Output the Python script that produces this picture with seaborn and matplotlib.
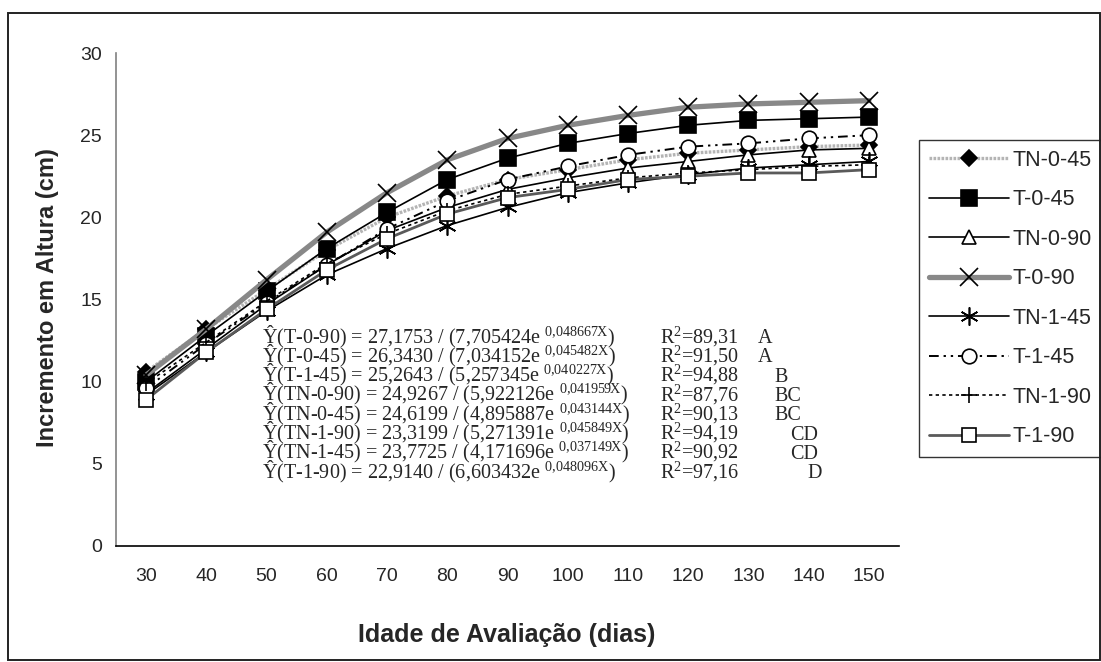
import numpy as np
import pandas as pd
import seaborn as sns
import matplotlib.pyplot as plt
from matplotlib.patches import Rectangle

# Idade de avaliacao (dias) e incremento em altura (cm)
dias = [30, 40, 50, 60, 70, 80, 90, 100, 110, 120, 130, 140, 150]

tn_0_45 = [10.6, 13.2, 15.6, 18.0, 20.0, 21.3, 22.3, 22.9, 23.5, 23.9, 24.1, 24.3, 24.4]
t_0_45 = [10.0, 12.8, 15.5, 18.1, 20.3, 22.3, 23.6, 24.5, 25.1, 25.6, 25.9, 26.0, 26.1]
tn_0_90 = [9.3, 12.0, 14.7, 17.1, 19.2, 20.6, 21.7, 22.4, 23.0, 23.4, 23.8, 24.1, 24.2]
t_0_90 = [10.4, 13.2, 16.2, 19.1, 21.5, 23.5, 24.8, 25.6, 26.2, 26.7, 26.9, 27.0, 27.1]
tn_1_45 = [9.2, 11.8, 14.3, 16.5, 18.1, 19.5, 20.6, 21.5, 22.1, 22.6, 23.0, 23.2, 23.4]
t_1_45 = [9.6, 12.3, 14.8, 17.1, 19.3, 21.0, 22.3, 23.1, 23.8, 24.3, 24.5, 24.8, 25.0]
tn_1_90 = [9.9, 12.4, 14.9, 17.2, 19.0, 20.4, 21.4, 21.9, 22.4, 22.7, 22.9, 23.1, 23.2]
t_1_90 = [8.9, 11.8, 14.4, 16.8, 18.7, 20.2, 21.2, 21.7, 22.3, 22.5, 22.7, 22.7, 22.9]

# Equacoes ajustadas (texto do grafico)
eq_names = ["T-0-90", "T-0-45", "T-1-45", "TN-0-90", "TN-0-45", "TN-1-90", "TN-1-45", "T-1-90"]
eq_a = ["27,1753", "26,3430", "25,2643", "24,9267", "24,6199", "23,3199", "23,7725", "22,9140"]
eq_b = ["7,705424", "7,034152", "5,257345", "5,922126", "4,895887", "5,271391", "4,171696", "6,603432"]
eq_c = ["0,048667", "0,045482", "0,040227", "0,041959", "0,043144", "0,045849", "0,037149", "0,048096"]
eq_r2 = ["89,31", "91,50", "94,88", "87,76", "90,13", "94,19", "90,92", "97,16"]
eq_group = ["A", "A", "B", "BC", "BC", "CD", "CD", "D"]

sns.set_style("white")
plt.rcParams['font.family'] = ['Liberation Sans', 'DejaVu Sans']
plt.rcParams['mathtext.fontset'] = 'custom'
plt.rcParams['mathtext.rm'] = 'Liberation Serif'
plt.rcParams['mathtext.default'] = 'regular'

W, H = 1101, 662
fig = plt.figure(figsize=(W / 100, H / 100), dpi=100)
ax = fig.add_axes([116 / W, 1 - 546 / H, (899 - 116) / W, (546 - 53) / H])

# name, values, line color, lw, linestyle, marker, size, face color
series = [
    ("TN-0-45", tn_0_45, "#b4b4b4", 2.4, ":", "D", 8.5, "black"),
    ("T-0-45", t_0_45, "black", 1.2, "-", "s", 11, "black"),
    ("TN-0-90", tn_0_90, "black", 1.2, "-", "^", 10, "white"),
    ("T-0-90", t_0_90, "#888888", 3.8, "-", "x", 13, "black"),
    ("TN-1-45", tn_1_45, "black", 1.2, "-", (6, 2, 0), 13, "black"),
    ("T-1-45", t_1_45, "black", 1.4, "-", "o", 10.5, "white"),
    ("TN-1-90", tn_1_90, "black", 1.2, "-", "+", 12, "black"),
    ("T-1-90", t_1_90, "#5a5a5a", 2.0, "-", "s", 10.5, "white"),
]

for name, vals, col, lw, ls, mk, ms, fc in series:
    sns.lineplot(x=dias, y=vals, ax=ax, color=col, lw=lw, linestyle=ls,
                 marker=mk, markersize=ms, mfc=fc, mec="black", mew=1.2,
                 label=name, legend=False)
    line = ax.lines[-1]
    if name == "T-1-45":
        line.set_dashes([5, 2.5, 1.2, 2.5, 1.2, 2.5])
    elif name == "TN-1-90":
        line.set_dashes([2, 2])
    elif name == "TN-0-45":
        line.set_dashes([0.8, 0.4])

ax.set_xlim(25, 155)
ax.set_ylim(0, 30)
ax.set_yticks(range(0, 31, 5))
ax.set_xticks(dias)
ax.set_xticks(np.arange(25, 156, 10), minor=True)
ax.tick_params(axis="x", which="major", length=0, pad=16, labelsize=14)
ax.tick_params(axis="x", which="minor", length=6, width=1, color="#555555", direction="out")
ax.tick_params(axis="y", length=6, width=1, color="#555555", direction="out", pad=4, labelsize=14)
ax.set_xlabel("")
ax.set_ylabel("")
sns.despine(ax=ax)
ax.spines["left"].set_color("#808080")
ax.spines["bottom"].set_color("black")
ax.spines["left"].set_linewidth(1.2)
ax.spines["bottom"].set_linewidth(1.2)

fig.text(507 / W, 1 - 635 / H, "Idade de Avaliação (dias)", fontsize=18,
         fontweight="bold", ha="center", va="center")
fig.text(48 / W, 1 - 298 / H, "Incremento em Altura (cm)", fontsize=17,
         fontweight="bold", ha="center", va="center", rotation=90)

# equacoes
letter_x = {"A": 758, "B": 774, "BC": 774, "CD": 790, "D": 807}
for i, name in enumerate(eq_names):
    yb = 1 - (343 + 19.3 * i) / H
    c_txt = eq_c[i].replace(",", "{,}")
    fig.text(262 / W, yb, f"Ŷ({name}) = {eq_a[i]} / ({eq_b[i]}e $^{{{c_txt}X}}$)",
             fontsize=14.5, family="Liberation Serif", va="baseline")
    fig.text(660 / W, yb, f"R$^{{2}}$={eq_r2[i]}", fontsize=14.5,
             family="Liberation Serif", va="baseline")
    fig.text(letter_x[eq_group[i]] / W, yb, eq_group[i], fontsize=14.5,
             family="Liberation Serif", va="baseline")

leg = ax.legend(loc="upper left", bbox_to_anchor=(919 / W, 1 - 140 / H),
                bbox_transform=fig.transFigure, fontsize=15.5, frameon=True,
                fancybox=False, borderaxespad=0, handlelength=3.75,
                handletextpad=0.15, borderpad=0.45, labelspacing=0.86)
leg.get_frame().set_edgecolor("black")
leg.get_frame().set_linewidth(1.0)

# moldura externa
fig.patches.append(Rectangle((8 / W, 2 / H), (1100 - 8) / W, (660 - 13) / H,
                             transform=fig.transFigure, fill=False,
                             edgecolor="#222222", lw=1.4))

fig.savefig("out.png", dpi=100)
